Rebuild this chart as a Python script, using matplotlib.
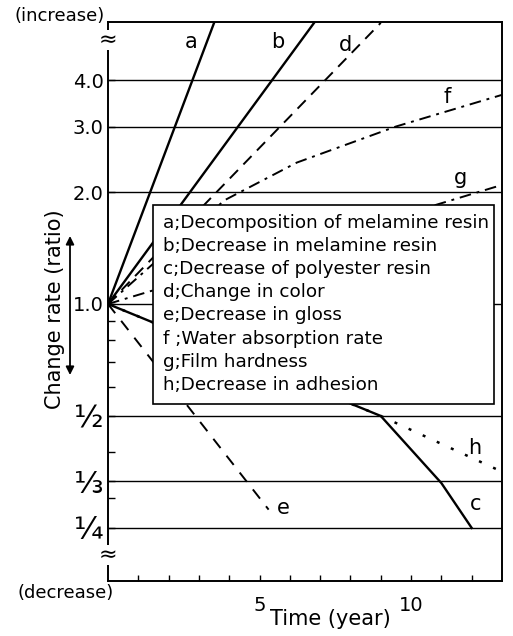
import numpy as np
import matplotlib
matplotlib.use("Agg")
import matplotlib.pyplot as plt
from matplotlib.patches import Rectangle

# curves (time in years, change rate as ratio)
a_x = [0, 3.5]
a_y = [1.0, 5.7]
b_x = [0, 6.8]
b_y = [1.0, 5.7]
c_x = [0, 9.0, 11.0, 12.0]
c_y = [1.0, 0.5, 0.33, 0.25]
d_x = [0, 9.0]
d_y = [1.0, 5.7]
e_x = [0, 5.3]
e_y = [1.0, 0.28]
f_x = [0, 3.84, 6.23, 9.5, 13.0]
f_y = [1.0, 1.9, 2.4, 3.0, 3.65]
g_x = [0, 13.0]
g_y = [1.0, 2.09]
h_x = [0, 9.0, 13.0]
h_y = [1.0, 0.5, 0.354]

# where the letter sits next to each curve
tag_names = ["a", "b", "c", "d", "e", "f", "g", "h"]
tag_x = [2.75, 5.6, 12.13, 7.84, 5.8, 11.2, 11.64, 12.1]
tag_y = [5.06, 5.06, 0.29, 4.97, 0.283, 3.6, 2.18, 0.41]

legend_lines = [
    "a;Decomposition of melamine resin",
    "b;Decrease in melamine resin",
    "c;Decrease of polyester resin",
    "d;Change in color",
    "e;Decrease in gloss",
    "f ;Water absorption rate",
    "g;Film hardness",
    "h;Decrease in adhesion",
]

grid_vals = [1/4, 1/3, 1/2, 1, 2, 3, 4]
grid_labels = ["\u00bc", "\u2153", "\u00bd", "1.0", "2.0", "3.0", "4.0"]
minor_vals = [0.3, 0.4, 0.6, 0.7, 0.8, 0.9]
year_ticks = list(range(1, 13))

W, H = 513, 636
fig = plt.figure(figsize=(W / 100, H / 100), dpi=100)
L, R, T, B = 108, 502, 22, 581
ax = fig.add_axes([L / W, 1 - B / H, (R - L) / W, (B - T) / H])

def px(x, y):
    # pixel position -> figure fraction
    return x / W, 1 - y / H

ax.set_yscale("log", base=2)
ax.set_xlim(0, 13)
ax.set_ylim(0.180, 5.73)

for v in grid_vals:
    ax.axhline(v, color="black", lw=1.0, zorder=1)

ax.plot(a_x, a_y, color="black", lw=1.7, zorder=2)
ax.plot(b_x, b_y, color="black", lw=1.7, zorder=2)
ax.plot(c_x, c_y, color="black", lw=1.7, zorder=2)
ax.plot(d_x, d_y, color="black", lw=1.4, ls=(0, (6, 4)), zorder=2)
ax.plot(e_x, e_y, color="black", lw=1.4, ls=(0, (6, 5)), zorder=2)
ax.plot(f_x, f_y, color="black", lw=1.4, ls=(0, (6, 3, 1.5, 3)), zorder=2)
ax.plot(g_x, g_y, color="black", lw=1.4, ls=(0, (6, 3, 1.5, 3)), zorder=2)
ax.plot(h_x, h_y, color="black", lw=1.8, ls=(0, (1.2, 5)), zorder=2)

for n, x, y in zip(tag_names, tag_x, tag_y):
    ax.text(x, y, n, fontsize=15, ha="center", va="center", zorder=3)

# legend box
ax.add_patch(Rectangle((0.114, 0.317), 0.866, 0.356, transform=ax.transAxes,
                       facecolor="white", edgecolor="black", lw=1.2, zorder=5))
for i, s in enumerate(legend_lines):
    y0 = 223 + i * 23.1
    ax.text(0.1396, (B - y0) / (B - T), s, transform=ax.transAxes,
            fontsize=13.2, ha="left", va="center", zorder=6)

# axes and ticks
for sp in ax.spines.values():
    sp.set_linewidth(1.4)
ax.set_yticks(grid_vals)
ax.set_yticklabels(grid_labels)
ax.set_yticks(minor_vals, minor=True)
ax.yaxis.set_minor_formatter(matplotlib.ticker.NullFormatter())
ax.tick_params(axis="y", which="both", direction="in", length=5, width=1.0, labelsize=14, pad=3)
for lab in ax.get_yticklabels():
    if lab.get_text() in ("\u00bc", "\u2153", "\u00bd"):
        lab.set_fontsize(22)

ax.set_xticks(year_ticks)
ax.set_xticklabels(["5" if t == 5 else "10" if t == 10 else "" for t in year_ticks])
ax.tick_params(axis="x", which="both", direction="in", length=4, width=1.0, labelsize=14, pad=11)

ax.set_xlabel("Time (year)", fontsize=15)
ax.xaxis.set_label_coords((330 - L) / (R - L), (B - 619) / (B - T))
ax.xaxis.label.set_va("center")

ax.set_ylabel("Change rate (ratio)", fontsize=15)
ax.yaxis.set_label_coords((55 - L) / (R - L), (B - 309) / (B - T))
ax.yaxis.label.set_va("center")

# up/down arrow beside the label
ax.annotate("", xy=px(70, 236), xytext=px(70, 375), xycoords="figure fraction",
            textcoords="figure fraction",
            arrowprops=dict(arrowstyle="<|-|>", color="black", lw=1.3,
                            mutation_scale=12, shrinkA=0, shrinkB=0))

fig.text(*px(60, 16), "(increase)", fontsize=13, ha="center", va="center")
fig.text(*px(66, 593), "(decrease)", fontsize=13, ha="center", va="center")

# axis break marks
for yb in (40, 555):
    fig.text(*px(L, yb), "\u2248", fontsize=16, ha="center", va="center",
             bbox=dict(facecolor="white", edgecolor="none", pad=0))

fig.savefig("out.png", dpi=100)
